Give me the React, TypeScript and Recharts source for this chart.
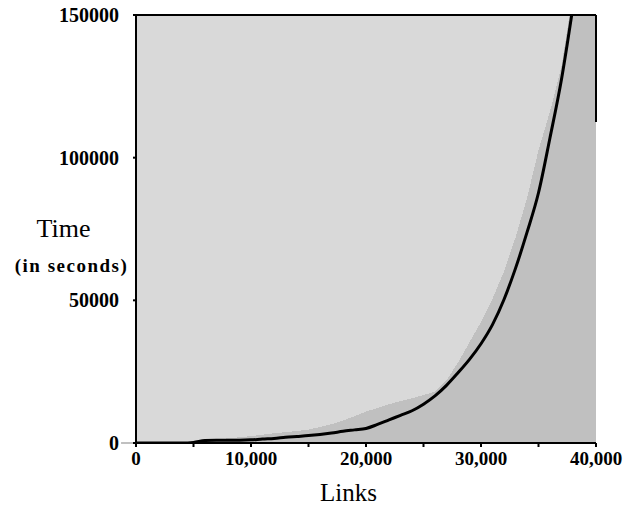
import React from 'react';
import { ComposedChart, Area, Line, XAxis, YAxis, CartesianGrid, ReferenceLine, Label } from 'recharts';

const links = [0, 1000, 2000, 3000, 4000, 5000, 6000, 7000, 8000, 9000, 10000, 11000, 12000, 13000, 14000, 15000, 16000, 17000, 18000, 19000, 20000, 21000, 22000, 23000, 24000, 25000, 26000, 27000, 28000, 29000, 30000, 31000, 32000, 33000, 34000, 35000, 36000, 37000, 38000, 39000, 40000];
const lineTime = [0, 0, 0, 0, 0, 200, 900, 1000, 1000, 1000, 1100, 1400, 1600, 2000, 2300, 2600, 3000, 3500, 4100, 4600, 5100, 6500, 8100, 9700, 11300, 13600, 16500, 20200, 24600, 29300, 34800, 41500, 50300, 61200, 73800, 87700, 107000, 127500, 153000, null, null];
const areaTime = [0, 0, 0, 0, 0, 200, 900, 1000, 1700, 2000, 2400, 2900, 3400, 3800, 4200, 4700, 5600, 6600, 7900, 9400, 11000, 12300, 13600, 14700, 15700, 16800, 18000, 22000, 28200, 35300, 42400, 50600, 60100, 72000, 85800, 102600, 116200, 132000, 158000, 180000, 200000];

const xTicks = [0, 5000, 10000, 15000, 20000, 25000, 30000, 35000, 40000];
const xTickLabels = ['0', '', '10,000', '', '20,000', '', '30,000', '', '40,000'];
const yTicks = [0, 50000, 100000, 150000];
const yTickLabels = ['0', '50000', '100000', '150000'];

const data = links.map((x, i) => ({ x, line: lineTime[i], area: areaTime[i] }));

const SERIF = '"Liberation Serif", "Times New Roman", serif';

const renderYLabel = () => (
  <g>
    <text x={63.5} y={237} textAnchor="middle" fontFamily={SERIF} fontSize={26} fill="#000">Time</text>
    <text x={71.5} y={272} textAnchor="middle" fontFamily={SERIF} fontSize={19} fontWeight="bold" letterSpacing={1.5} fill="#000">(in seconds)</text>
  </g>
);

const renderXLabel = () => (
  <text x={348.5} y={501} textAnchor="middle" fontFamily={SERIF} fontSize={25} fill="#000">Links</text>
);

export default function App() {
  return (
    <div style={{ position: 'absolute', left: 0, top: 0, width: 623, height: 508, background: '#fff' }}>
      <ComposedChart width={623} height={508} data={data} margin={{ top: 15, right: 27, bottom: 0, left: 0 }}>
        <CartesianGrid horizontal={false} vertical={false} fill="#d9d9d9" stroke="none" />
        <XAxis
          dataKey="x"
          type="number"
          domain={[0, 40000]}
          allowDataOverflow
          ticks={xTicks}
          tickFormatter={(v: number) => xTickLabels[xTicks.indexOf(v)] ?? ''}
          height={65}
          axisLine={{ stroke: '#000', strokeWidth: 2 }}
          tickLine={{ stroke: '#000', strokeWidth: 2 }}
          tickSize={4}
          tickMargin={5}
          interval={0}
          tick={{ fill: '#000', fontSize: 19, fontWeight: 'bold', fontFamily: SERIF }}
        >
          <Label content={renderXLabel} />
        </XAxis>
        <YAxis
          type="number"
          domain={[0, 150000]}
          allowDataOverflow
          ticks={yTicks}
          tickFormatter={(v: number) => yTickLabels[yTicks.indexOf(v)] ?? ''}
          width={136}
          axisLine={{ stroke: '#000', strokeWidth: 2 }}
          tickLine={{ stroke: '#000', strokeWidth: 2 }}
          tickSize={3}
          tickMargin={14}
          interval={0}
          tick={{ fill: '#000', fontSize: 20, fontWeight: 'bold', fontFamily: SERIF }}
        >
          <Label content={renderYLabel} />
        </YAxis>
        <Area
          dataKey="area"
          type="linear"
          fill="#c0c0c0"
          fillOpacity={1}
          stroke="none"
          isAnimationActive={false}
          shapeRendering="crispEdges"
        />
        <Line
          dataKey="line"
          type="monotone"
          stroke="#000"
          strokeWidth={3}
          dot={false}
          activeDot={false}
          isAnimationActive={false}
        />
        <ReferenceLine y={150000} stroke="#000" strokeWidth={2} />
        <ReferenceLine
          segment={[{ x: 40000, y: 112500 }, { x: 40000, y: 150000 }]}
          stroke="#000"
          strokeWidth={2}
        />
        <ReferenceLine
          segment={[{ x: -1300, y: 0 }, { x: 0, y: 0 }]}
          stroke="#c0c0c0"
          strokeWidth={2}
          ifOverflow="visible"
        />
      </ComposedChart>
    </div>
  );
}
